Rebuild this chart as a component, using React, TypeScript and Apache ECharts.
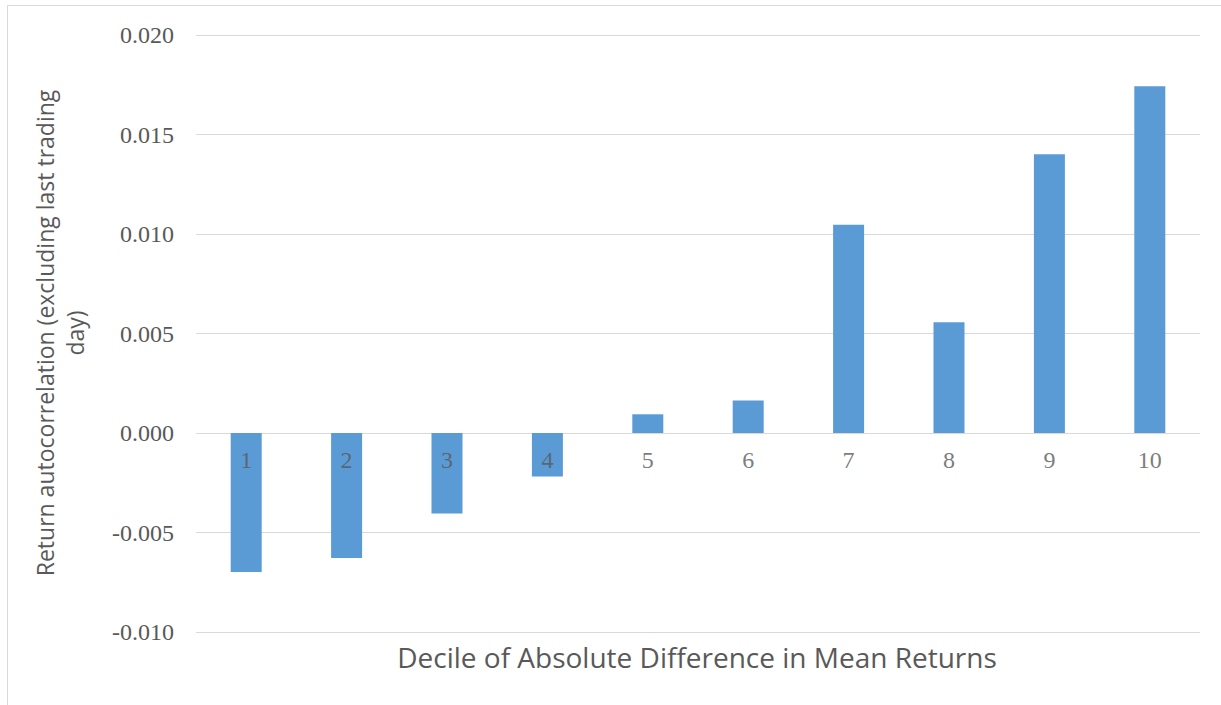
import React, { useEffect, useRef } from "react";
import * as echarts from "echarts";

const categories = ["1", "2", "3", "4", "5", "6", "7", "8", "9", "10"];
const values = [-0.00698, -0.00628, -0.00405, -0.00219, 0.00094, 0.00163, 0.01047, 0.00557, 0.01401, 0.01742];
const labelBase = [0, 0, 0, 0, 0, 0, 0, 0, 0, 0];
const yTitle = "Return autocorrelation (excluding last trading\nday)";
const xTitle = "Decile of Absolute Difference in Mean Returns";

export default function App() {
  const ref = useRef<HTMLDivElement>(null);
  useEffect(() => {
    if (!ref.current) return;
    const chart = echarts.init(ref.current, null, { renderer: "svg" });
    chart.setOption({
      animation: false,
      backgroundColor: "#ffffff",
      grid: { left: 196, right: 21, top: 35, bottom: 73, containLabel: false },
      xAxis: {
        type: "category",
        data: categories,
        axisLine: { show: false },
        axisTick: { show: false },
        axisLabel: { show: false },
      },
      yAxis: {
        type: "value",
        min: -0.01,
        max: 0.02,
        interval: 0.005,
        axisLine: { show: false },
        axisTick: { show: false },
        splitLine: { lineStyle: { color: "#d9d9d9", width: 1 } },
        axisLabel: {
          margin: 22,
          fontFamily: "Liberation Serif",
          fontSize: 24,
          color: "#595959",
          formatter: (v: number) => v.toFixed(3),
        },
      },
      series: [
        {
          type: "bar",
          data: values,
          barWidth: 31,
          itemStyle: { color: "#5b9bd5" },
        },
        {
          type: "scatter",
          data: labelBase,
          symbolSize: 0,
          z: 10,
          silent: true,
          label: {
            show: true,
            position: "bottom",
            distance: 15,
            fontFamily: "Liberation Serif",
            fontSize: 24,
            color: "#595959",
            formatter: (p: any) => categories[p.dataIndex],
          },
        },
      ],
      graphic: [
        {
          type: "rect",
          shape: { x: 7.5, y: 5.5, width: 1400, height: 900 },
          style: { fill: "none", stroke: "#d9d9d9", lineWidth: 1 },
          silent: true,
        },
        {
          type: "text",
          x: 697,
          y: 657,
          style: {
            text: xTitle,
            fontFamily: "Open Sans",
            fontSize: 28,
            fill: "#595959",
            textAlign: "center",
            textVerticalAlign: "middle",
          },
        },
        {
          type: "text",
          x: 60,
          y: 333,
          rotation: Math.PI / 2,
          style: {
            text: yTitle,
            fontFamily: "Open Sans",
            fontSize: 23,
            lineHeight: 30,
            fill: "#595959",
            textAlign: "center",
            textVerticalAlign: "middle",
          },
        },
      ],
    });
    return () => chart.dispose();
  }, []);
  return <div ref={ref} style={{ position: "fixed", left: 0, top: 0, width: 1221, height: 705 }} />;
}
